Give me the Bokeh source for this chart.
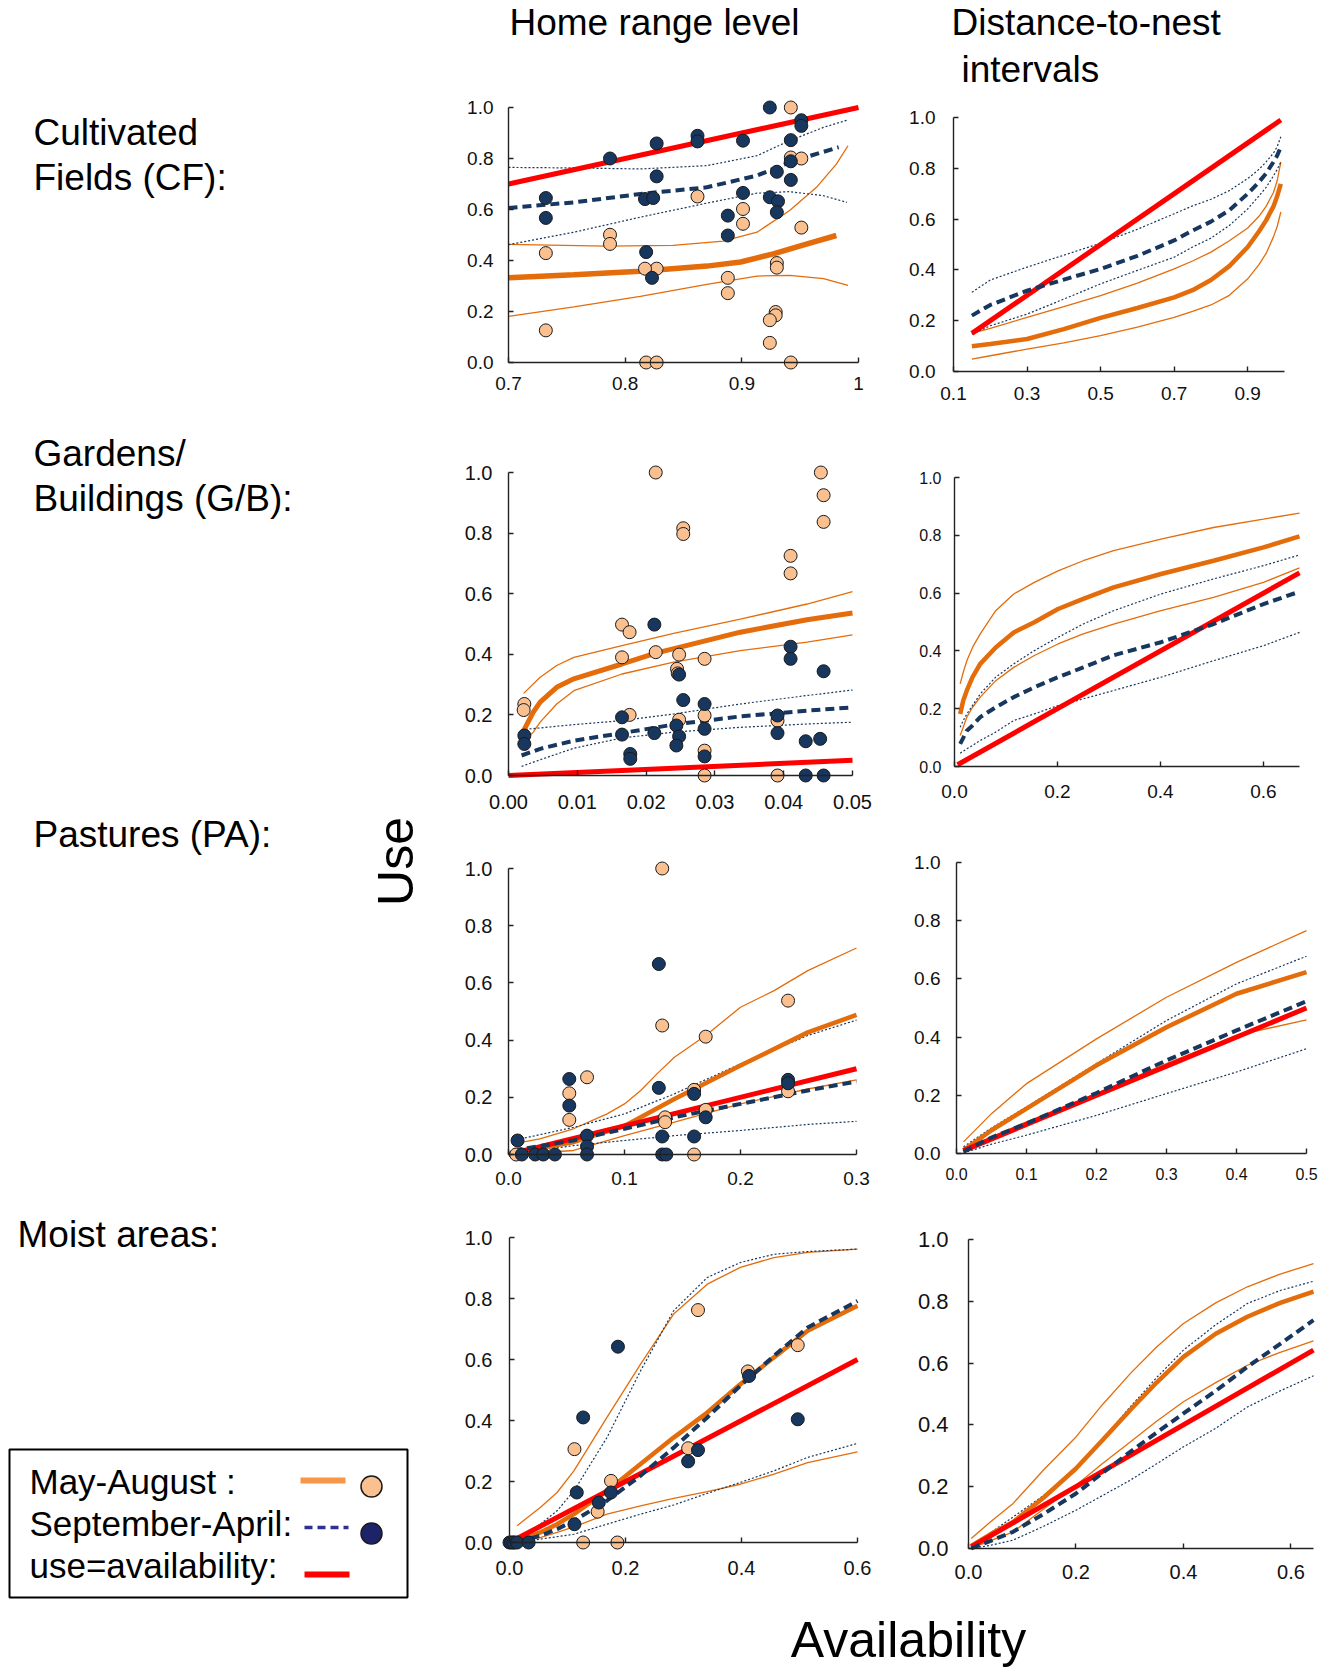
import numpy as np
from bokeh.plotting import figure
from bokeh.models import Range1d, FixedTicker, CustomJSTickFormatter, LinearAxis
from bokeh.layouts import column, row
from bokeh.core.properties import value
from bokeh.embed import file_html
from bokeh.resources import INLINE

# ======================= DATA =======================
Y_TICKS = [0.0, 0.2, 0.4, 0.6, 0.8, 1.0]

# ---- Cultivated fields, home range level ----
cf_hr_may_x = [0.942, 0.942, 0.951, 0.951, 0.930, 0.930, 0.929, 0.929, 0.924, 0.924, 0.942, 0.901,
               0.901, 0.888, 0.888, 0.862, 0.827, 0.817, 0.818, 0.827, 0.787, 0.787, 0.732, 0.732]
cf_hr_may_y = [1.000, 0.804, 0.800, 0.529, 0.390, 0.372, 0.198, 0.185, 0.166, 0.077, 0.000, 0.602,
               0.544, 0.332, 0.272, 0.651, 0.368, 0.368, 0.000, 0.000, 0.501, 0.465, 0.429, 0.126]
cf_hr_sep_x = [0.924, 0.951, 0.951, 0.942, 0.942, 0.930, 0.942, 0.924, 0.931, 0.930, 0.901, 0.901, 0.888,
               0.888, 0.862, 0.862, 0.827, 0.827, 0.817, 0.824, 0.818, 0.823, 0.787, 0.732, 0.732]
cf_hr_sep_y = [1.000, 0.950, 0.928, 0.872, 0.789, 0.748, 0.716, 0.648, 0.632, 0.589, 0.665, 0.870, 0.576,
               0.498, 0.889, 0.867, 0.859, 0.730, 0.641, 0.645, 0.433, 0.332, 0.800, 0.645, 0.567]
cf_hr_ref = [0.7, 1.0]
cf_hr_may_fit_x = [0.700, 0.756, 0.813, 0.870, 0.899, 0.927, 0.956, 0.981]
cf_hr_may_fit_y = [0.332, 0.344, 0.358, 0.378, 0.394, 0.426, 0.465, 0.498]
cf_hr_may_up_x = [0.700, 0.784, 0.841, 0.884, 0.913, 0.941, 0.964, 0.981, 0.991]
cf_hr_may_up_y = [0.463, 0.456, 0.459, 0.476, 0.511, 0.596, 0.687, 0.778, 0.850]
cf_hr_may_lo_x = [0.700, 0.756, 0.813, 0.870, 0.913, 0.941, 0.970, 0.991]
cf_hr_may_lo_y = [0.181, 0.218, 0.259, 0.306, 0.339, 0.342, 0.329, 0.302]
cf_hr_sep_fit_x = [0.700, 0.756, 0.813, 0.870, 0.913, 0.927, 0.941, 0.956, 0.983]
cf_hr_sep_fit_y = [0.606, 0.628, 0.661, 0.687, 0.733, 0.759, 0.785, 0.807, 0.844]
cf_hr_sep_ci_x = [0.700, 0.756, 0.813, 0.870, 0.913, 0.941, 0.970, 0.990]
cf_hr_sep_up_y = [0.765, 0.763, 0.759, 0.772, 0.811, 0.870, 0.922, 0.950]
cf_hr_sep_lo_y = [0.462, 0.511, 0.570, 0.625, 0.664, 0.670, 0.654, 0.628]

# ---- Cultivated fields, distance-to-nest ----
cf_dn_x = [0.15, 0.20, 0.30, 0.40, 0.50, 0.60, 0.70, 0.75, 0.80, 0.85, 0.90, 0.93, 0.95, 0.97, 0.98, 0.99]
cf_dn_may_fit = [0.099, 0.108, 0.128, 0.167, 0.211, 0.250, 0.292, 0.320, 0.360, 0.415, 0.490, 0.550, 0.595, 0.650, 0.690, 0.739]
cf_dn_may_up = [0.150, 0.170, 0.213, 0.255, 0.299, 0.348, 0.404, 0.435, 0.470, 0.515, 0.565, 0.610, 0.650, 0.705, 0.750, 0.825]
cf_dn_may_lo = [0.049, 0.062, 0.088, 0.113, 0.141, 0.175, 0.213, 0.237, 0.262, 0.300, 0.365, 0.420, 0.465, 0.530, 0.570, 0.628]
cf_dn_sep_fit = [0.220, 0.262, 0.318, 0.362, 0.404, 0.455, 0.516, 0.555, 0.590, 0.635, 0.700, 0.745, 0.780, 0.825, 0.850, 0.884]
cf_dn_sep_up = [0.312, 0.360, 0.411, 0.458, 0.505, 0.560, 0.621, 0.652, 0.678, 0.712, 0.760, 0.795, 0.825, 0.860, 0.885, 0.924]
cf_dn_sep_lo = [0.147, 0.180, 0.226, 0.285, 0.345, 0.398, 0.450, 0.490, 0.525, 0.575, 0.640, 0.690, 0.725, 0.770, 0.795, 0.825]
cf_dn_ref = [0.15, 0.99]

# ---- Gardens / buildings, home range level ----
gb_hr_may_x = [0.0023, 0.0022, 0.0214, 0.0254, 0.0254, 0.0165, 0.0176, 0.0165, 0.0176, 0.0214, 0.0248, 0.0245, 0.0246,
               0.0248, 0.0285, 0.0285, 0.0285, 0.0285, 0.0391, 0.0391, 0.0410, 0.0410, 0.0454, 0.0458, 0.0458]
gb_hr_may_y = [0.236, 0.216, 1.000, 0.816, 0.797, 0.498, 0.473, 0.390, 0.200, 0.407, 0.399, 0.352, 0.337,
               0.184, 0.385, 0.198, 0.082, 0.000, 0.181, 0.000, 0.725, 0.667, 1.000, 0.925, 0.837]
gb_hr_sep_x = [0.0023, 0.0023, 0.0165, 0.0165, 0.0177, 0.0177, 0.0212, 0.0212, 0.0248, 0.0254, 0.0244, 0.0248, 0.0244,
               0.0285, 0.0285, 0.0285, 0.0391, 0.0391, 0.0410, 0.0410, 0.0432, 0.0453, 0.0432, 0.0458, 0.0458]
gb_hr_sep_y = [0.132, 0.104, 0.192, 0.135, 0.071, 0.055, 0.498, 0.140, 0.333, 0.249, 0.165, 0.129, 0.099,
               0.236, 0.154, 0.063, 0.198, 0.140, 0.425, 0.385, 0.113, 0.121, 0.000, 0.000, 0.344]
gb_hr_ref = [0.0, 0.05]
gb_hr_may_fit_x = [0.0022, 0.0036, 0.0046, 0.0070, 0.0095, 0.0165, 0.0214, 0.0248, 0.0337, 0.0434, 0.0500]
gb_hr_may_fit_y = [0.148, 0.209, 0.242, 0.291, 0.319, 0.368, 0.404, 0.423, 0.473, 0.514, 0.536]
gb_hr_may_up_x = [0.0022, 0.0046, 0.0070, 0.0095, 0.0165, 0.0240, 0.0337, 0.0434, 0.0500]
gb_hr_may_up_y = [0.271, 0.324, 0.363, 0.390, 0.429, 0.469, 0.516, 0.566, 0.607]
gb_hr_may_lo_x = [0.0022, 0.0036, 0.0046, 0.0070, 0.0095, 0.0165, 0.0240, 0.0337, 0.0434, 0.0500]
gb_hr_may_lo_y = [0.110, 0.143, 0.176, 0.236, 0.280, 0.335, 0.374, 0.412, 0.440, 0.464]
gb_hr_sep_fit_x = [0.0019, 0.0046, 0.0095, 0.0165, 0.0240, 0.0337, 0.0434, 0.0500]
gb_hr_sep_fit_y = [0.066, 0.088, 0.115, 0.140, 0.168, 0.195, 0.214, 0.225]
gb_hr_sep_up_x = [0.0019, 0.0095, 0.0165, 0.0240, 0.0337, 0.0434, 0.0500]
gb_hr_sep_up_y = [0.151, 0.168, 0.181, 0.203, 0.236, 0.264, 0.282]
gb_hr_sep_lo_x = [0.0019, 0.0046, 0.0095, 0.0165, 0.0240, 0.0337, 0.0434, 0.0500]
gb_hr_sep_lo_y = [0.030, 0.052, 0.090, 0.124, 0.143, 0.159, 0.170, 0.176]

# ---- Gardens / buildings, distance-to-nest ----
gb_dn_x = [0.011, 0.017, 0.024, 0.035, 0.050, 0.080, 0.115, 0.155, 0.201, 0.250, 0.309, 0.401, 0.503, 0.600, 0.670]
gb_dn_may_fit = [0.182, 0.228, 0.263, 0.309, 0.355, 0.412, 0.464, 0.499, 0.545, 0.580, 0.620, 0.666, 0.712, 0.758, 0.796]
gb_dn_may_up = [0.286, 0.326, 0.366, 0.412, 0.459, 0.539, 0.597, 0.637, 0.677, 0.712, 0.747, 0.787, 0.827, 0.856, 0.877]
gb_dn_may_lo = [0.107, 0.136, 0.171, 0.205, 0.240, 0.297, 0.343, 0.384, 0.424, 0.459, 0.493, 0.539, 0.585, 0.637, 0.687]
gb_dn_sep_fit = [0.078, 0.099, 0.124, 0.142, 0.171, 0.205, 0.240, 0.274, 0.309, 0.343, 0.385, 0.430, 0.493, 0.562, 0.605]
gb_dn_sep_up = [0.136, 0.159, 0.182, 0.211, 0.251, 0.309, 0.355, 0.401, 0.447, 0.493, 0.539, 0.597, 0.649, 0.695, 0.732]
gb_dn_sep_lo = [0.046, 0.053, 0.061, 0.073, 0.090, 0.119, 0.159, 0.182, 0.211, 0.234, 0.263, 0.309, 0.366, 0.418, 0.464]
gb_dn_ref = [0.006, 0.670]

# ---- Pastures, home range level ----
pa_hr_may_x = [0.1325, 0.1325, 0.170, 0.241, 0.241, 0.0677, 0.0524, 0.0524, 0.135, 0.135, 0.160, 0.170, 0.160, 0.0066]
pa_hr_may_y = [1.000, 0.451, 0.412, 0.538, 0.221, 0.270, 0.214, 0.121, 0.130, 0.113, 0.226, 0.156, 0.000, 0.000]
pa_hr_sep_x = [0.1296, 0.1296, 0.0524, 0.0524, 0.0677, 0.0677, 0.0677, 0.0078, 0.0115, 0.023,
               0.030, 0.040, 0.1325, 0.1325, 0.136, 0.160, 0.160, 0.170, 0.241, 0.241]
pa_hr_sep_y = [0.666, 0.233, 0.264, 0.171, 0.066, 0.028, 0.000, 0.049, 0.000, 0.000,
               0.000, 0.000, 0.063, 0.000, 0.000, 0.212, 0.063, 0.130, 0.261, 0.249]
pa_hr_ref = [0.0, 0.3]
pa_hr_x = [0.004, 0.056, 0.100, 0.143, 0.200, 0.258, 0.300]
pa_hr_may_fit = [0.008, 0.043, 0.100, 0.194, 0.311, 0.427, 0.488]
pa_hr_may_lo = [0.000, 0.014, 0.066, 0.113, 0.177, 0.229, 0.261]
pa_hr_sep_fit = [0.014, 0.049, 0.090, 0.130, 0.177, 0.224, 0.255]
pa_hr_sep_up = [0.049, 0.095, 0.142, 0.212, 0.317, 0.416, 0.470]
pa_hr_sep_lo = [0.002, 0.031, 0.049, 0.066, 0.084, 0.105, 0.116]
pa_hr_may_up_x = [0.004, 0.027, 0.056, 0.085, 0.100, 0.114, 0.128, 0.143, 0.170, 0.200, 0.229, 0.258, 0.300]
pa_hr_may_up_y = [0.037, 0.055, 0.090, 0.142, 0.177, 0.224, 0.282, 0.340, 0.416, 0.515, 0.573, 0.643, 0.722]

# ---- Pastures, distance-to-nest ----
pa_dn_x = [0.010, 0.050, 0.100, 0.200, 0.300, 0.400, 0.500]
pa_dn_may_fit = [0.011, 0.080, 0.154, 0.303, 0.434, 0.549, 0.623]
pa_dn_may_up = [0.040, 0.137, 0.240, 0.394, 0.537, 0.657, 0.766]
pa_dn_may_lo = [0.006, 0.057, 0.109, 0.206, 0.309, 0.406, 0.459]
pa_dn_sep_fit = [0.006, 0.055, 0.103, 0.208, 0.320, 0.423, 0.523]
pa_dn_sep_up = [0.023, 0.088, 0.160, 0.309, 0.457, 0.583, 0.678]
pa_dn_sep_lo = [0.002, 0.032, 0.063, 0.131, 0.206, 0.280, 0.360]
pa_dn_ref = [0.010, 0.500]

# ---- Moist areas, home range level ----
ma_hr_may_x = [0.008, 0.127, 0.186, 0.112, 0.152, 0.175, 0.308, 0.325, 0.411, 0.497]
ma_hr_may_y = [0.000, 0.000, 0.000, 0.306, 0.101, 0.202, 0.309, 0.762, 0.561, 0.647]
ma_hr_sep_x = [0.000, 0.003, 0.007, 0.013, 0.033, 0.112, 0.116, 0.127, 0.154, 0.175, 0.187, 0.308, 0.325, 0.413, 0.497]
ma_hr_sep_y = [0.000, 0.000, 0.000, 0.000, 0.000, 0.060, 0.164, 0.410, 0.131, 0.164, 0.642, 0.266, 0.303, 0.546, 0.404]
ma_hr_ref = [0.0, 0.6]
ma_hr_x = [0.013, 0.053, 0.082, 0.111, 0.168, 0.226, 0.283, 0.341, 0.398, 0.456, 0.514, 0.600]
ma_hr_may_fit = [0.002, 0.033, 0.060, 0.093, 0.169, 0.257, 0.344, 0.426, 0.519, 0.607, 0.694, 0.776]
ma_hr_sep_fit = [0.002, 0.022, 0.044, 0.071, 0.137, 0.219, 0.311, 0.410, 0.514, 0.612, 0.705, 0.792]
ma_hr_may_up = [0.055, 0.115, 0.164, 0.235, 0.410, 0.585, 0.749, 0.847, 0.902, 0.934, 0.951, 0.962]
ma_hr_sep_up = [0.011, 0.060, 0.104, 0.169, 0.344, 0.563, 0.760, 0.869, 0.918, 0.945, 0.954, 0.962]
ma_hr_may_lo = [0.002, 0.016, 0.033, 0.051, 0.093, 0.120, 0.145, 0.167, 0.191, 0.224, 0.262, 0.297]
ma_hr_sep_lo = [0.000, 0.011, 0.019, 0.027, 0.060, 0.093, 0.123, 0.161, 0.197, 0.235, 0.279, 0.325]

# ---- Moist areas, distance-to-nest ----
ma_dn_x = [0.005, 0.040, 0.083, 0.140, 0.200, 0.250, 0.301, 0.350, 0.400, 0.460, 0.519, 0.580, 0.642]
ma_dn_may_fit = [0.008, 0.045, 0.086, 0.165, 0.259, 0.352, 0.448, 0.537, 0.620, 0.695, 0.750, 0.795, 0.831]
ma_dn_may_up = [0.032, 0.085, 0.146, 0.255, 0.361, 0.467, 0.566, 0.652, 0.728, 0.795, 0.847, 0.888, 0.922]
ma_dn_may_lo = [0.000, 0.025, 0.054, 0.128, 0.205, 0.276, 0.345, 0.412, 0.475, 0.537, 0.593, 0.635, 0.672]
ma_dn_sep_fit = [0.000, 0.024, 0.054, 0.112, 0.178, 0.245, 0.313, 0.375, 0.437, 0.510, 0.588, 0.662, 0.739]
ma_dn_sep_up = [0.011, 0.050, 0.102, 0.172, 0.259, 0.356, 0.458, 0.553, 0.642, 0.724, 0.793, 0.835, 0.865]
ma_dn_sep_lo = [0.000, 0.010, 0.027, 0.072, 0.124, 0.172, 0.221, 0.274, 0.329, 0.389, 0.458, 0.510, 0.559]
ma_dn_ref = [0.005, 0.642]

# Text
col_titles = ["Home range level", "Distance-to-nest", "intervals"]
row_labels = ["Cultivated", "Fields (CF):", "Gardens/", "Buildings (G/B):", "Pastures (PA):", "Moist areas:"]
legend_labels = ["May-August :", "September-April:", "use=availability:"]

# ======================= STYLE =======================
FONT = "Liberation Sans"
ORANGE = "#E46C0A"
ORANGE_PT = "#FAC090"
NAVY = "#17375E"
RED = "#FF0000"
AXIS = "#222222"
PAD = 10
COL1_FRAME = (498, 868)    # page x of the plot frames in the home-range column
COL2_FRAME = (943, 1323)   # page x of the plot frames in the distance-to-nest column


def blank(w, h, xr, yr):
    p = figure(width=w, height=h, x_range=xr, y_range=yr, x_axis_type=None, y_axis_type=None,
               toolbar_location=None, output_backend="svg", min_border=0)
    p.outline_line_color = None
    return p


def make_panel(cell, frame_lr, box, xlim, xticks, xfmt, yfs, xfs, ystand, xstand):
    cx, cy, cw, ch = cell
    FL, FR = frame_lr
    X0, X1, Yt, Yb = box
    x0, x1 = xlim
    sx = (X1 - X0) / (x1 - x0)
    sy = float(Yb - Yt)
    p = figure(width=cw, height=ch,
               x_range=Range1d(x0 - (X0 - FL) / sx, x1 + (FR - X1) / sx),
               y_range=Range1d(-PAD / sy, 1 + PAD / sy),
               x_axis_type=None, y_axis_type=None, toolbar_location=None, output_backend="svg",
               min_border_left=FL - cx, min_border_right=cx + cw - FR,
               min_border_top=Yt - PAD - cy, min_border_bottom=cy + ch - Yb - PAD)
    p.outline_line_color = None
    # axis lines and inward ticks, drawn exactly at use = 0 and availability = x0
    xa = LinearAxis(fixed_location=0.0, bounds=(x0, x1), ticker=FixedTicker(ticks=xticks),
                    formatter=CustomJSTickFormatter(code="return '';"))
    ya = LinearAxis(fixed_location=x0, bounds=(0, 1), ticker=FixedTicker(ticks=Y_TICKS),
                    formatter=CustomJSTickFormatter(code="return '';"))
    for ax in (xa, ya):
        ax.axis_line_color = AXIS
        ax.axis_line_width = 1.4
        ax.major_tick_line_color = AXIS
        ax.major_tick_line_width = 1.4
        ax.major_tick_in = 5
        ax.major_tick_out = 0
        ax.minor_tick_in = 0
        ax.minor_tick_out = 0
        ax.major_label_text_font_size = "1px"
    p.add_layout(xa, "below")
    p.add_layout(ya, "left")
    # tick labels
    xl = LinearAxis(ticker=FixedTicker(ticks=xticks), formatter=CustomJSTickFormatter(code=xfmt))
    yl = LinearAxis(ticker=FixedTicker(ticks=Y_TICKS),
                    formatter=CustomJSTickFormatter(code="return tick.toFixed(1);"))
    for ax, fs, st in ((xl, xfs, xstand - PAD), (yl, yfs, ystand - (X0 - FL))):
        ax.axis_line_color = None
        ax.major_tick_line_color = None
        ax.minor_tick_line_color = None
        ax.major_tick_in = 0
        ax.major_tick_out = 0
        ax.minor_tick_in = 0
        ax.minor_tick_out = 0
        ax.major_label_text_font = FONT
        ax.major_label_text_font_size = f"{fs}px"
        ax.major_label_text_color = "#111111"
        ax.major_label_standoff = st
    p.add_layout(xl, "below")
    p.add_layout(yl, "left")
    return p


def o_ci(p, x, y):
    p.line(x, y, line_color=ORANGE, line_width=1.3)


def n_ci(p, x, y):
    p.line(x, y, line_color=NAVY, line_width=1.2, line_dash="2 2")


def o_fit(p, x, y, w=5):
    p.line(x, y, line_color=ORANGE, line_width=w)


def n_fit(p, x, y):
    p.line(x, y, line_color=NAVY, line_width=4, line_dash="9 5")


def ref(p, x):
    p.line(x, x, line_color=RED, line_width=5)


def pts(p, x, y, fill):
    p.scatter(x, y, size=13, fill_color=fill, line_color="#1a1a1a", line_width=1)


F1 = "return tick.toFixed(1);"
F2 = "return tick.toFixed(2);"

# ---- P1 ----
p1 = make_panel((420, 95, 470, 325), COL1_FRAME, (508, 858, 107, 362), (0.7, 1.0), [0.7, 0.8, 0.9, 1.0],
                "return tick > 0.99 ? '1' : tick.toFixed(1);", 19, 19, 15, 14)
o_ci(p1, cf_hr_may_up_x, cf_hr_may_up_y)
o_ci(p1, cf_hr_may_lo_x, cf_hr_may_lo_y)
n_ci(p1, cf_hr_sep_ci_x, cf_hr_sep_up_y)
n_ci(p1, cf_hr_sep_ci_x, cf_hr_sep_lo_y)
o_fit(p1, cf_hr_may_fit_x, cf_hr_may_fit_y, 5.5)
ref(p1, cf_hr_ref)
n_fit(p1, cf_hr_sep_fit_x, cf_hr_sep_fit_y)
pts(p1, cf_hr_may_x, cf_hr_may_y, ORANGE_PT)
pts(p1, cf_hr_sep_x, cf_hr_sep_y, NAVY)

# ---- P2 ----
p2 = make_panel((890, 95, 444, 335), COL2_FRAME, (953, 1284, 117, 371), (0.1, 1.0), [0.1, 0.3, 0.5, 0.7, 0.9],
                F1, 19, 19, 18, 15)
o_ci(p2, cf_dn_x, cf_dn_may_up)
o_ci(p2, cf_dn_x, cf_dn_may_lo)
n_ci(p2, cf_dn_x, cf_dn_sep_up)
n_ci(p2, cf_dn_x, cf_dn_sep_lo)
o_fit(p2, cf_dn_x, cf_dn_may_fit, 4.5)
ref(p2, cf_dn_ref)
n_fit(p2, cf_dn_x, cf_dn_sep_fit)

# ---- P3 ----
p3 = make_panel((420, 420, 470, 418), COL1_FRAME, (508, 852, 472, 775), (0.0, 0.05),
                [0.0, 0.01, 0.02, 0.03, 0.04, 0.05], F2, 20, 20, 16, 19)
o_ci(p3, gb_hr_may_up_x, gb_hr_may_up_y)
o_ci(p3, gb_hr_may_lo_x, gb_hr_may_lo_y)
n_ci(p3, gb_hr_sep_up_x, gb_hr_sep_up_y)
n_ci(p3, gb_hr_sep_lo_x, gb_hr_sep_lo_y)
o_fit(p3, gb_hr_may_fit_x, gb_hr_may_fit_y, 5)
ref(p3, gb_hr_ref)
n_fit(p3, gb_hr_sep_fit_x, gb_hr_sep_fit_y)
pts(p3, gb_hr_may_x, gb_hr_may_y, ORANGE_PT)
pts(p3, gb_hr_sep_x, gb_hr_sep_y, NAVY)

# ---- P4 ----
p4 = make_panel((890, 430, 444, 400), COL2_FRAME, (954, 1299, 477, 766), (0.0, 0.67), [0.0, 0.2, 0.4, 0.6],
                F1, 16, 19, 13, 18)
o_ci(p4, gb_dn_x, gb_dn_may_up)
o_ci(p4, gb_dn_x, gb_dn_may_lo)
n_ci(p4, gb_dn_x, gb_dn_sep_up)
n_ci(p4, gb_dn_x, gb_dn_sep_lo)
o_fit(p4, gb_dn_x, gb_dn_may_fit, 4.5)
ref(p4, gb_dn_ref)
n_fit(p4, gb_dn_x, gb_dn_sep_fit)

# ---- P5 ----
p5 = make_panel((420, 838, 470, 374), COL1_FRAME, (508, 856, 868, 1154), (0.0, 0.3), [0.0, 0.1, 0.2, 0.3],
                F1, 20, 19, 16, 17)
o_ci(p5, pa_hr_may_up_x, pa_hr_may_up_y)
o_ci(p5, pa_hr_x, pa_hr_may_lo)
n_ci(p5, pa_hr_x, pa_hr_sep_up)
n_ci(p5, pa_hr_x, pa_hr_sep_lo)
o_fit(p5, pa_hr_x, pa_hr_may_fit, 4.5)
ref(p5, pa_hr_ref)
n_fit(p5, pa_hr_x, pa_hr_sep_fit)
pts(p5, pa_hr_may_x, pa_hr_may_y, ORANGE_PT)
pts(p5, pa_hr_sep_x, pa_hr_sep_y, NAVY)

# ---- P6 ----
p6 = make_panel((890, 830, 444, 382), COL2_FRAME, (956, 1306, 862, 1153), (0.0, 0.5),
                [0.0, 0.1, 0.2, 0.3, 0.4, 0.5], F1, 19, 16, 16, 14)
o_ci(p6, pa_dn_x, pa_dn_may_up)
o_ci(p6, pa_dn_x, pa_dn_may_lo)
n_ci(p6, pa_dn_x, pa_dn_sep_up)
n_ci(p6, pa_dn_x, pa_dn_sep_lo)
o_fit(p6, pa_dn_x, pa_dn_may_fit, 4.5)
ref(p6, pa_dn_ref)
n_fit(p6, pa_dn_x, pa_dn_sep_fit)

# ---- P7 ----
p7 = make_panel((420, 1212, 470, 388), COL1_FRAME, (509, 857, 1237, 1542), (0.0, 0.6), [0.0, 0.2, 0.4, 0.6],
                F1, 20, 20, 17, 18)
o_ci(p7, ma_hr_x, ma_hr_may_up)
o_ci(p7, ma_hr_x, ma_hr_may_lo)
n_ci(p7, ma_hr_x, ma_hr_sep_up)
n_ci(p7, ma_hr_x, ma_hr_sep_lo)
o_fit(p7, ma_hr_x, ma_hr_may_fit, 4.5)
ref(p7, ma_hr_ref)
n_fit(p7, ma_hr_x, ma_hr_sep_fit)
pts(p7, ma_hr_may_x, ma_hr_may_y, ORANGE_PT)
pts(p7, ma_hr_sep_x, ma_hr_sep_y, NAVY)

# ---- P8 ----
p8 = make_panel((890, 1212, 444, 388), COL2_FRAME, (968, 1313, 1239, 1548), (0.0, 0.642), [0.0, 0.2, 0.4, 0.6],
                F1, 22, 20, 20, 16)
o_ci(p8, ma_dn_x, ma_dn_may_up)
o_ci(p8, ma_dn_x, ma_dn_may_lo)
n_ci(p8, ma_dn_x, ma_dn_sep_up)
n_ci(p8, ma_dn_x, ma_dn_sep_lo)
o_fit(p8, ma_dn_x, ma_dn_may_fit, 4.5)
ref(p8, ma_dn_ref)
n_fit(p8, ma_dn_x, ma_dn_sep_fit)

# ---- header ----
hdr = blank(1334, 95, Range1d(0, 1334), Range1d(95, 0))
hdr.text(x=[509, 951, 961], y=[22, 22, 69], text=col_titles, text_font=value(FONT),
         text_font_size="37px", text_align="left", text_baseline="alphabetic", text_color="#000000")

# ---- left label column (page coordinates) ----
lab = blank(420, 1505, Range1d(0, 420), Range1d(1600, 95))
lab.text(x=[33, 33, 33, 33, 33, 17], y=[132, 177, 453, 498, 834, 1234], text=row_labels,
         text_font=value(FONT), text_font_size="37px", text_align="left", text_baseline="alphabetic",
         text_color="#000000")
lab.text(x=[395], y=[861], text=["Use"], angle=np.pi / 2, text_font=value(FONT), text_font_size="50px",
         text_align="center", text_baseline="alphabetic", text_color="#000000")
# legend
lab.quad(left=[9], right=[407], top=[1449], bottom=[1597], fill_color=None, line_color="#000000", line_width=2)
lab.text(x=[29, 29, 29], y=[1481, 1523, 1565], text=legend_labels, text_font=value(FONT),
         text_font_size="35px", text_align="left", text_baseline="alphabetic", text_color="#000000")
lab.line([300, 345], [1480, 1480], line_color="#F79646", line_width=6)
lab.line([304, 348], [1527, 1527], line_color="#2E3192", line_width=3.5, line_dash="8 5")
lab.line([304, 349], [1574, 1574], line_color=RED, line_width=6)
lab.scatter([371], [1486], size=21, fill_color=ORANGE_PT, line_color="#1a1a1a", line_width=1.5)
lab.scatter([371], [1533], size=21, fill_color="#1D2369", line_color="#1a1a1a", line_width=1.5)

# ---- footer ----
ftr = blank(1334, 70, Range1d(0, 1334), Range1d(1670, 1600))
ftr.text(x=[908], y=[1639], text=["Availability"], text_font=value(FONT), text_font_size="50px",
         text_align="center", text_baseline="alphabetic", text_color="#000000")

layout = column(hdr,
                row(lab, column(p1, p3, p5, p7), column(p2, p4, p6, p8)),
                ftr)

open("out.html", "w").write(file_html(layout, INLINE))
